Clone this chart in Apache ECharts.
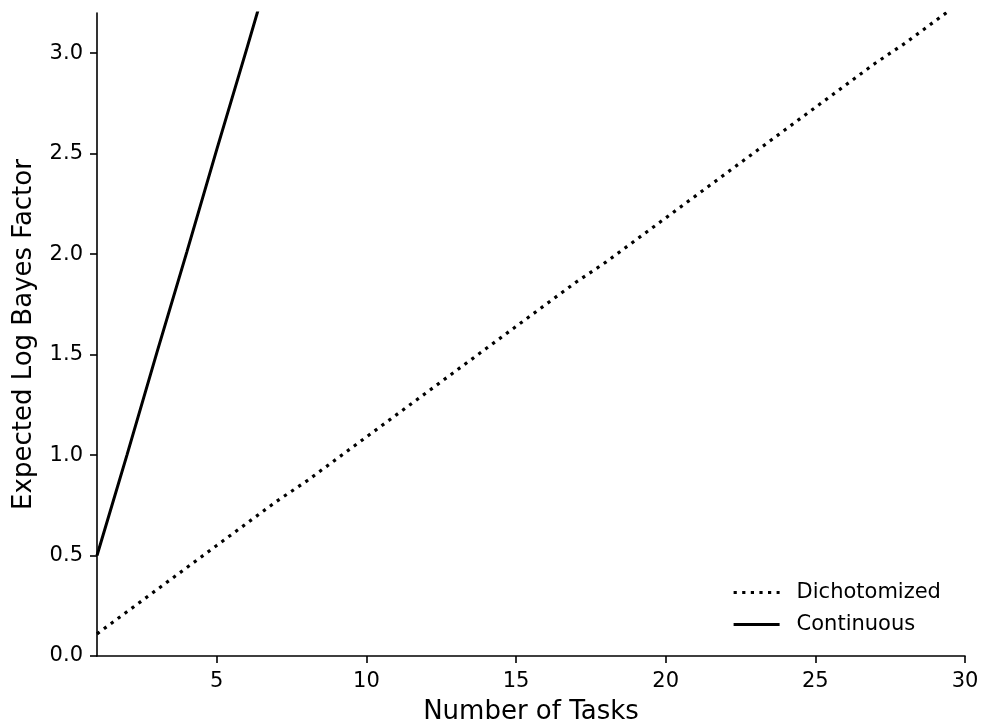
<!DOCTYPE html>
<html>
<head>
<meta charset="utf-8">
<script src="https://cdn.jsdelivr.net/npm/echarts@6/dist/echarts.min.js"></script>
<style>html,body{margin:0;padding:0;background:#fff}#c{width:981px;height:725px}</style>
</head>
<body>
<div id="c"></div>
<script>
const tasks = [1,2,3,4,5,6,7,8,9,10,11,12,13,14,15,16,17,18,19,20,21,22,23,24,25,26,27,28,29,30];
const dichotomized = [0.11,0.22,0.33,0.44,0.55,0.66,0.77,0.87,0.98,1.09,1.20,1.31,1.42,1.53,1.64,1.75,1.86,1.96,2.07,2.18,2.29,2.40,2.51,2.62,2.73,2.84,2.95,3.05,3.16,3.27];
const continuous = [0.50,1.00,1.51,2.01,2.52,3.02,3.53,4.03,4.54,5.04,5.55,6.05,6.56,7.06,7.57,8.07,8.58,9.08,9.59,10.09,10.60,11.10,11.61,12.11,12.62,13.12,13.63,14.13,14.64,15.14];
const xTicks = [5,10,15,20,25,30];
const yTicks = [0,0.5,1.0,1.5,2.0,2.5,3.0];

const font = 'DejaVu Sans';
const chart = echarts.init(document.getElementById('c'), null, {renderer:'canvas'});
chart.setOption({
  animation:false,
  backgroundColor:'#fff',
  textStyle:{fontFamily:font,color:'#000'},
  grid:{left:97,right:16,top:13,bottom:69,containLabel:false,outerBoundsMode:'none'},
  legend:{
    orient:'vertical', left:732, top:582, padding:0,
    itemWidth:46, itemHeight:14, itemGap:11,
    itemStyle:{opacity:0},
    textStyle:{fontFamily:font,fontSize:21,color:'#000',lineHeight:21,padding:[0,0,0,12]},
    data:[
      {name:'Dichotomized',lineStyle:{width:3.2,type:[3.2,5.4],color:'#000',cap:'butt'}},
      {name:'Continuous',lineStyle:{width:3.2,type:'solid',color:'#000'}}
    ]
  },
  xAxis:{
    type:'value', min:1, max:30,
    name:'Number of Tasks', nameLocation:'middle', nameGap:43,
    nameTextStyle:{fontFamily:font,fontSize:26,color:'#000'},
    axisLine:{lineStyle:{color:'#000',width:1.6}},
    axisTick:{show:true,length:7,lineStyle:{color:'#000',width:1.6},customValues:xTicks},
    axisLabel:{fontFamily:font,fontSize:21,color:'#000',margin:15,customValues:xTicks,formatter:v=>String(v)},
    splitLine:{show:false}
  },
  yAxis:{
    type:'value', min:0, max:3.2,
    name:'Expected Log Bayes Factor', nameLocation:'middle', nameGap:60, nameRotate:90,
    nameTextStyle:{fontFamily:font,fontSize:26,color:'#000'},
    axisLine:{show:true,lineStyle:{color:'#000',width:1.6}},
    axisTick:{show:true,length:7,lineStyle:{color:'#000',width:1.6},customValues:yTicks},
    axisLabel:{fontFamily:font,fontSize:21,color:'#000',margin:14,customValues:yTicks,formatter:v=>v.toFixed(1)},
    splitLine:{show:false}
  },
  series:[
    {name:'Dichotomized',type:'line',data:tasks.map((t,i)=>[t,dichotomized[i]]),
     symbol:'none',clip:true,color:'#000',
     lineStyle:{color:'#000',width:3.2,type:[3.2,5.4],cap:'butt'}},
    {name:'Continuous',type:'line',data:tasks.map((t,i)=>[t,continuous[i]]),
     symbol:'none',clip:true,color:'#000',
     lineStyle:{color:'#000',width:3,type:'solid'}}
  ]
});
</script>
</body>
</html>
